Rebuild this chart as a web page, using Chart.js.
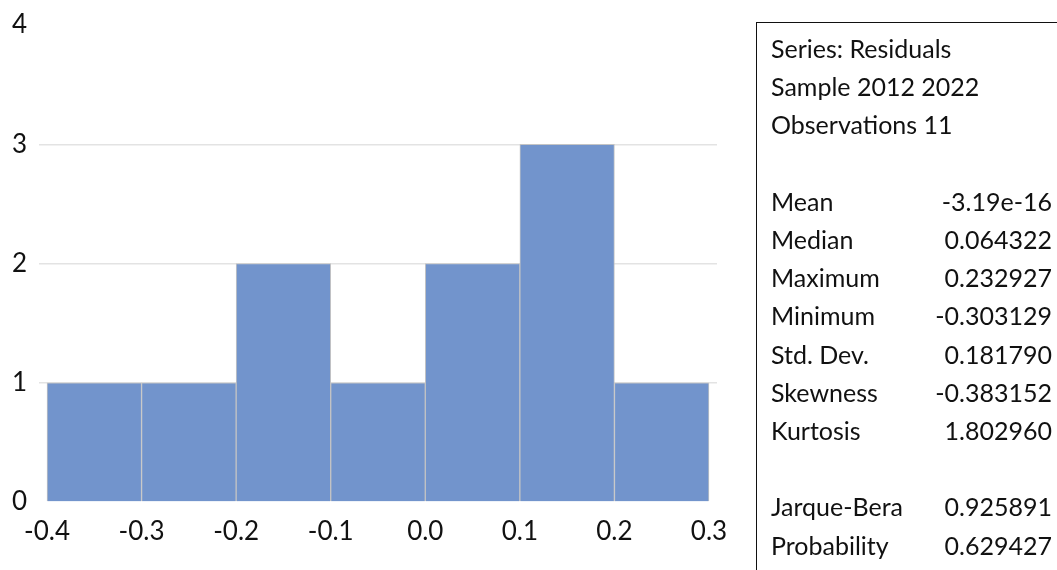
<!DOCTYPE html>
<html>
<head>
<meta charset="utf-8">
<script src="https://cdn.jsdelivr.net/npm/chart.js@4/dist/chart.umd.min.js"></script>
<style>
  html, body { margin: 0; padding: 0; background: #fff; }
  #wrap { position: relative; width: 1057px; height: 570px; overflow: hidden; }
  #c { position: absolute; left: 0; top: 0; }
  #stats { position: absolute; left: 756px; top: 22px; width: 320px; height: 600px;
    border: 1.5px solid #111; box-sizing: border-box; font-family: Lato, "Open Sans", sans-serif;
    font-size: 25px; color: #111; }
  .row { position: absolute; left: 14px; width: 281px; height: 30px; line-height: 30px; white-space: nowrap; }
  .row .v { position: absolute; right: 0; top: 0; }
</style>
</head>
<body>
<div id="wrap">
  <canvas id="c" width="1057" height="570"></canvas>
  <div id="stats"></div>
</div>
<script>
// ---- data ----
const binCenters = [-0.35, -0.25, -0.15, -0.05, 0.05, 0.15, 0.25];
const binCounts  = [1, 1, 2, 1, 2, 3, 1];
const xTickValues = [-0.4, -0.3, -0.2, -0.1, 0.0, 0.1, 0.2, 0.3];
const xTickLabels = ['-0.4', '-0.3', '-0.2', '-0.1', '0.0', '0.1', '0.2', '0.3'];
const yTickValues = [0, 1, 2, 3, 4];
const headerLines = ['Series: Residuals', 'Sample 2012 2022', 'Observations 11'];
const statNames  = ['Mean', 'Median', 'Maximum', 'Minimum', 'Std. Dev.', 'Skewness', 'Kurtosis'];
const statValues = ['-3.19e-16', '0.064322', '0.232927', '-0.303129', '0.181790', '-0.383152', '1.802960'];
const testNames  = ['Jarque-Bera', 'Probability'];
const testValues = ['0.925891', '0.629427'];

// ---- stats box (HTML text) ----
const box = document.getElementById('stats');
const lineStep = 38.2;
function addRow(name, val, idx) {
  const r = document.createElement('div');
  r.className = 'row';
  r.style.top = (10 + idx * lineStep) + 'px';
  r.textContent = name;
  if (val !== undefined) {
    const v = document.createElement('span');
    v.className = 'v';
    v.textContent = val;
    r.appendChild(v);
  }
  box.appendChild(r);
}
headerLines.forEach((t, i) => addRow(t, undefined, i));
statNames.forEach((t, i) => addRow(t, statValues[i], 4 + i));
testNames.forEach((t, i) => addRow(t, testValues[i], 12 + i));

// ---- chart ----
const FONT = "Lato, 'Open Sans', sans-serif";
const pad = 0.00846;
new Chart(document.getElementById('c'), {
  type: 'bar',
  data: {
    datasets: [{
      data: binCenters.map((x, i) => ({ x: x, y: binCounts[i] })),
      backgroundColor: '#7294CC',
      borderColor: '#C4C4C4',
      borderWidth: 1,
      barPercentage: 1,
      categoryPercentage: 1
    }]
  },
  options: {
    responsive: false,
    animation: false,
    layout: { padding: { top: 4, right: 340, left: 0, bottom: 0 } },
    plugins: { legend: { display: false }, tooltip: { enabled: false } },
    scales: {
      x: {
        type: 'linear',
        offset: false,
        min: xTickValues[0] - pad,
        max: xTickValues[xTickValues.length - 1] + pad,
        grid: { display: false },
        border: { display: false },
        afterBuildTicks: (s) => { s.ticks = xTickValues.map(v => ({ value: v })); },
        ticks: {
          autoSkip: false, maxRotation: 0, padding: 6,
          color: '#111', font: { family: FONT, size: 26 },
          callback: (v) => { const i = xTickValues.findIndex(t => Math.abs(t - v) < 1e-9); return i >= 0 ? xTickLabels[i] : ''; }
        },
        afterFit: (s) => { s.height = 68; }
      },
      y: {
        min: 0, max: 4,
        afterBuildTicks: (s) => { s.ticks = yTickValues.map(v => ({ value: v })); },
        grid: { color: (ctx) => (ctx.tick && (ctx.tick.value === 0 || ctx.tick.value === 4)) ? 'rgba(0,0,0,0)' : '#E3E3E3', lineWidth: 1.5, drawTicks: false },
        border: { display: false },
        ticks: { padding: 12, color: '#111', font: { family: FONT, size: 26, lineHeight: 1.0 } },
        afterFit: (s) => { s.width = 39; }
      }
    }
  }
});
</script>
</body>
</html>
